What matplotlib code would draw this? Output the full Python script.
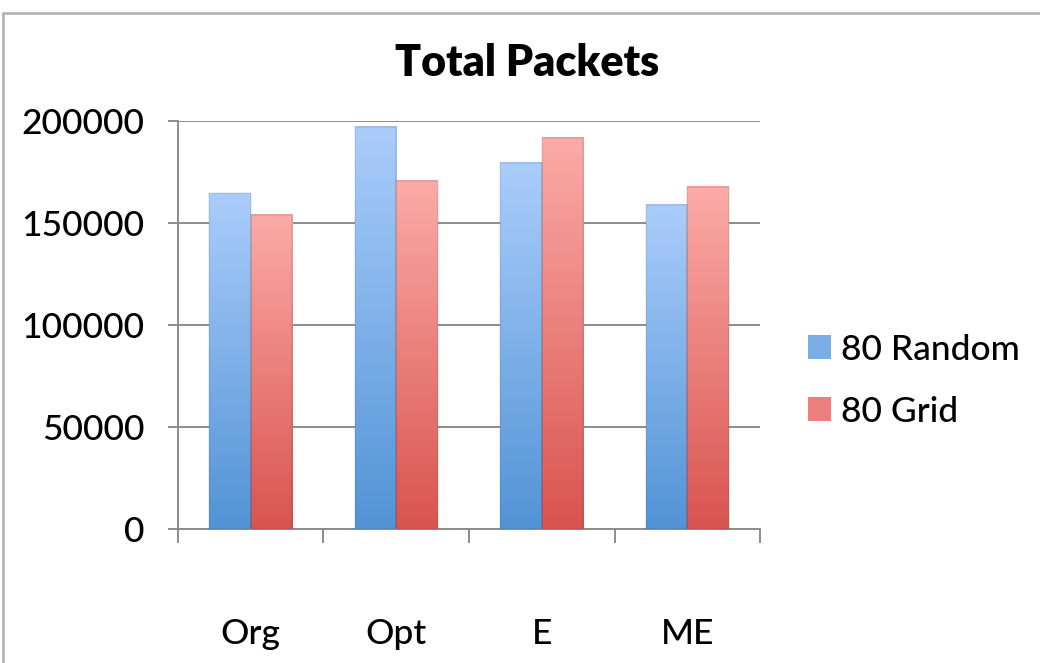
import numpy as np
import matplotlib
matplotlib.use("Agg")
import matplotlib.pyplot as plt
from matplotlib.colors import LinearSegmentedColormap
from matplotlib.patches import Rectangle, Patch

plt.rcParams['font.family'] = ['Lato', 'DejaVu Sans']

categories = ["Org", "Opt", "E", "ME"]
random_80 = [164700, 197400, 179800, 159200]
grid_80 = [154100, 170900, 191900, 168000]
series_names = ["80 Random", "80 Grid"]
y_ticks = [0, 50000, 100000, 150000, 200000]

blue_map = LinearSegmentedColormap.from_list("blue", ["#5293d6", "#aacdfb"])
red_map = LinearSegmentedColormap.from_list("red", ["#d9544f", "#fbaba8"])

fig = plt.figure(figsize=(10.4, 6.63), dpi=100)
ax = fig.add_axes([0.171, 0.202, 0.560, 0.615])

x = np.arange(len(categories))
w = 0.286
bars_r = ax.bar(x - w / 2, random_80, width=w, color="none", edgecolor="none")
bars_g = ax.bar(x + w / 2, grid_80, width=w, color="none", edgecolor="none")

grad = np.linspace(0, 1, 256).reshape(-1, 1)
for bars, cmap in ((bars_r, blue_map), (bars_g, red_map)):
    for b in bars:
        x0, y0 = b.get_x(), b.get_y()
        bw, bh = b.get_width(), b.get_height()
        ax.imshow(grad, cmap=cmap, origin="lower", aspect="auto",
                  extent=[x0, x0 + bw, y0, y0 + bh], zorder=3,
                  interpolation="bilinear")
        ax.add_patch(Rectangle((x0, y0), bw, bh, fill=False,
                               edgecolor=(0, 0, 0, 0.08), lw=1.2, zorder=4))

ax.set_xlim(-0.5, len(categories) - 0.5)
ax.set_ylim(0, 200000)
ax.set_yticks(y_ticks)
ax.set_yticklabels([str(v) for v in y_ticks], fontsize=25.5, fontweight="medium")
ax.yaxis.grid(True, color="#8c8c8c", lw=1.4, zorder=0)
ax.set_axisbelow(True)

ax.set_xticks(x)
ax.set_xticklabels(categories, fontsize=25.5, fontweight="medium")
ax.set_xticks(np.arange(-0.5, len(categories)), minor=True)
ax.tick_params(axis="x", which="major", length=0, pad=64)
ax.tick_params(axis="x", which="minor", length=10, width=1.4, color="#8c8c8c")
ax.tick_params(axis="y", length=7, width=1.4, color="#8c8c8c", pad=17)

for s in ("top", "right"):
    ax.spines[s].set_visible(False)
for s in ("left", "bottom"):
    ax.spines[s].set_color("#8c8c8c")
    ax.spines[s].set_linewidth(1.4)

fig.text(0.507, 0.905, "Total Packets", ha="center", va="center",
         fontsize=31, fontweight="heavy")

handles = [Patch(facecolor="#7aaee6", edgecolor="none"),
           Patch(facecolor="#ec7f7b", edgecolor="none")]
fig.legend(handles, series_names, loc="center left",
           bbox_to_anchor=(0.746, 0.426), frameon=False, fontsize=25.5,
           handlelength=0.65, handleheight=0.65, handletextpad=0.3,
           labelspacing=0.85, prop={"weight": "medium", "size": 25.5})

fig.patches.append(Rectangle((0.003, -0.02), 1.05, 1.0, transform=fig.transFigure,
                             fill=False, edgecolor="#b5b5b5", lw=2.0))

fig.savefig("out.png", dpi=100)
